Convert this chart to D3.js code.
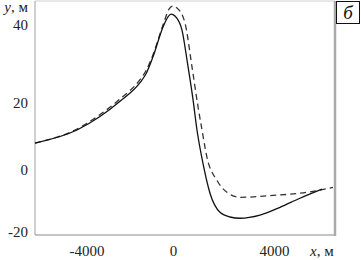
<!DOCTYPE html>
<html>
<head>
<meta charset="utf-8">
<script src="https://cdn.jsdelivr.net/npm/d3@7"></script>
<style>
  body { margin: 0; background: #fff; }
  svg { display: block; font-family: "Liberation Serif", "DejaVu Serif", serif; }
</style>
</head>
<body>
<div id="chart"></div>
<script>
// Data (x in metres, y in metres)
const solidX = [-6381, -4439, -3376, -2451, -1526, -1248, -925, -462, -231, -92, 79, 356, 554, 792, 950, 1188, 1465, 1861, 2257, 2653, 3445, 4237, 5029, 5900];
const solidY = [7.9, 11.8, 15.8, 20.3, 25.1, 27.4, 31.8, 39.5, 42.1, 42.8, 42.3, 38.7, 31.0, 20.8, 11.8, 1.8, -7.6, -13.7, -15.2, -15.6, -14.6, -12.1, -9.2, -6.3];

const dashX = [-6381, -4439, -3376, -2451, -1526, -1248, -925, -462, -185, 0, 158, 475, 752, 990, 1148, 1346, 1742, 2138, 2653, 3960, 5306, 6336];
const dashY = [7.9, 12.1, 16.4, 20.9, 25.9, 28.2, 32.3, 40.0, 44.1, 44.9, 44.4, 40.5, 29.2, 18.8, 11.8, 3.6, -3.5, -7.3, -8.9, -8.3, -7.3, -5.7];

const xTicks = [-4000, 0, 4000];
const yTicks = [-20, 0, 20, 40];

// Dimensions
const width = 361, height = 260;
const plot = { left: 35, right: 335, top: 1, bottom: 235 };

const svg = d3.select("#chart").append("svg")
    .attr("width", width)
    .attr("height", height);

// Scales (labels in the source figure are not evenly spaced, so polylinear)
const x = d3.scaleLinear().domain(xTicks).range([86.5, 173, 274]);
const y = d3.scaleLinear().domain(yTicks).range([232, 169.5, 102.5, 25]);

// Frame
svg.append("line").attr("x1", plot.left).attr("x2", plot.right)
    .attr("y1", plot.top).attr("y2", plot.top)
    .attr("stroke", "#d0d0d0").attr("stroke-width", 1);
svg.append("line").attr("x1", plot.left).attr("x2", plot.left)
    .attr("y1", plot.top).attr("y2", plot.bottom)
    .attr("stroke", "#b0b0b0").attr("stroke-width", 1.2);
svg.append("line").attr("x1", plot.left).attr("x2", plot.right)
    .attr("y1", plot.bottom).attr("y2", plot.bottom)
    .attr("stroke", "#8a8a8a").attr("stroke-width", 1.2);
svg.append("line").attr("x1", plot.right).attr("x2", plot.right)
    .attr("y1", plot.top).attr("y2", plot.bottom + 1)
    .attr("stroke", "#aaaaaa").attr("stroke-width", 2.5);

// Curves
const line = d3.line()
    .x(d => x(d[0]))
    .y(d => y(d[1]))
    .curve(d3.curveMonotoneX);

svg.append("path")
    .datum(d3.zip(dashX, dashY))
    .attr("d", line)
    .attr("fill", "none")
    .attr("stroke", "#333")
    .attr("stroke-width", 1.3)
    .attr("stroke-dasharray", "6,4");

svg.append("path")
    .datum(d3.zip(solidX, solidY))
    .attr("d", line)
    .attr("fill", "none")
    .attr("stroke", "#111")
    .attr("stroke-width", 1.3);

// Axes
const xAxis = svg.append("g")
    .attr("transform", `translate(0,${plot.bottom})`)
    .call(d3.axisBottom(x).tickValues(xTicks).tickSize(0).tickPadding(10).tickFormat(d3.format("d")));
const yAxis = svg.append("g")
    .attr("transform", `translate(28,0)`)
    .call(d3.axisLeft(y).tickValues(yTicks).tickSize(0).tickPadding(0).tickFormat(d3.format("d")));

[xAxis, yAxis].forEach(g => {
    g.select(".domain").remove();
    g.selectAll("text")
        .style("font-family", "'Liberation Serif', serif")
        .style("font-size", "15px")
        .attr("fill", "#222");
});
// d3 uses a unicode minus; the figure uses a plain hyphen
svg.selectAll(".tick text").text(function () { return d3.select(this).text().replace("\u2212", "-"); });

// Axis titles
const yTitle = svg.append("text")
    .attr("x", 28).attr("y", 12)
    .attr("text-anchor", "end")
    .style("font-size", "15px")
    .attr("fill", "#222");
yTitle.append("tspan").style("font-style", "italic").text("y");
yTitle.append("tspan").text(", м");

const xTitle = svg.append("text")
    .attr("x", 310).attr("y", 256)
    .style("font-size", "15px")
    .attr("fill", "#222");
xTitle.append("tspan").style("font-style", "italic").text("x");
xTitle.append("tspan").text(", м");

// Panel label
svg.append("rect")
    .attr("x", 336.5).attr("y", 1.5)
    .attr("width", 23).attr("height", 22)
    .attr("fill", "#fff")
    .attr("stroke", "#111")
    .attr("stroke-width", 1);
svg.append("text")
    .attr("x", 348).attr("y", 19)
    .attr("text-anchor", "middle")
    .style("font-size", "19px")
    .style("font-style", "italic")
    .attr("fill", "#111")
    .text("б");
</script>
</body>
</html>
